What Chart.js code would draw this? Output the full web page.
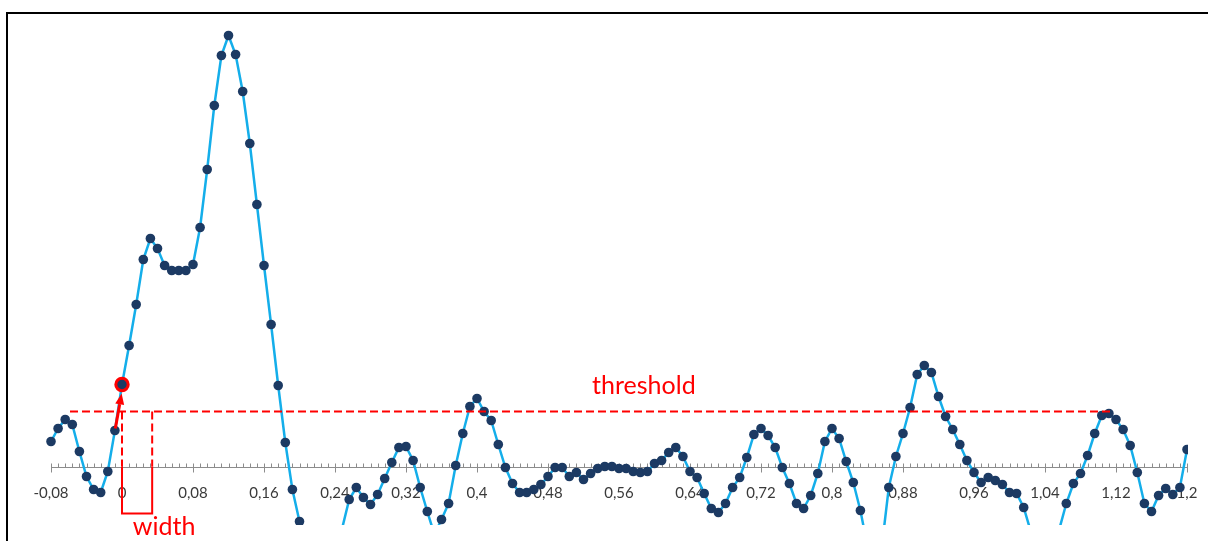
<!DOCTYPE html>
<html>
<head>
<meta charset="utf-8">
<script src="https://cdn.jsdelivr.net/npm/chart.js@4.4.1/dist/chart.umd.min.js"></script>
<style>
   html, body { margin: 0; padding: 0; background: #fff; overflow: hidden; }
   #marco { position: absolute; left: 6px; top: 12px; width: 1400px; height: 800px;
            border-left: 2px solid #000; border-top: 2px solid #000; }
   #contenedor { position: absolute; left: 0; top: 0; width: 1208px; height: 541px; }
</style>
</head>
<body>
<div id="marco"></div>
<div id="contenedor"><canvas id="myChart"></canvas></div>
<script>
// muestras cada 0,008 empezando en -0,08
const xStart = -0.08;
const xStep = 0.008;

const signal = [
   25, 38, 47, 42, 15, -10, -23, -26, -5, 36,
   82, 121, 162, 207, 228, 218, 201, 196, 196, 196,
   202, 239, 297, 361, 411, 431, 412, 375, 323, 262,
   201, 142, 81, 24, -23, -55, -85, -100, -102, -90,
   -75, -62, -33, -21, -31, -38, -28, -12, 4, 19,
   20, 6, -21, -45, -68, -53, -37, 1, 33, 60,
   68, 55, 46, 22, -1, -17, -26, -26, -23, -18,
   -10, -1, -1, -10, -6, -13, -7, -2, 0, 0,
   -2, -2, -5, -6, -5, 3, 6, 14, 19, 10,
   -5, -11, -27, -42, -46, -37, -21, -11, 9, 32,
   38, 31, 19, -1, -17, -37, -42, -29, -7, 25,
   38, 28, 5, -16, -44, -80, -100, -81, -21, 10,
   33, 59, 92, 101, 94, 70, 50, 37, 22, 6,
   -6, -16, -11, -14, -18, -26, -27, -41, -65, -85,
   -95, -85, -63, -37, -17, -7, 11, 33, 51, 53,
   47, 37, 21, -6, -37, -45, -29, -22, -28, -21,
   17, 55
];

const tickValues = [-0.08, 0, 0.08, 0.16, 0.24, 0.32, 0.4, 0.48, 0.56, 0.64, 0.72, 0.8, 0.88, 0.96, 1.04, 1.12, 1.2];
const tickLabels = ['-0,08', '0', '0,08', '0,16', '0,24', '0,32', '0,4', '0,48', '0,56', '0,64', '0,72', '0,8', '0,88', '0,96', '1,04', '1,12', '1,2'];

// anotaciones
const markedIndex = 10;
const thresholdValue = 55;
const thresholdFrom = -0.0586;
const thresholdTo = 1.1135;
const widthFrom = 0;
const widthTo = 0.034;
const widthBottom = -47;
const arrowFrom = { x: -0.0075, y: 38 };
const arrowTo = { x: -0.0004, y: 73 };
const thresholdText = { x: 0.588, y: 80.5, text: 'threshold' };
const widthText = { x: 0.0474, y: -60.5, text: 'width' };

const rojo = '#ff0000';

const ejeX = {
   id: 'ejeX',
   beforeDatasetsDraw(chart) {
      const { ctx, scales: { x, y } } = chart;
      const y0 = Math.round(y.getPixelForValue(0)) + 0.5;
      ctx.save();
      ctx.strokeStyle = '#8c8c8c';
      ctx.lineWidth = 1;
      ctx.beginPath();
      ctx.moveTo(x.getPixelForValue(-0.08), y0);
      ctx.lineTo(x.getPixelForValue(1.2), y0);
      for (let i = 0; i <= 160; i++) {
         const px = Math.round(x.getPixelForValue(xStart + i * xStep)) + 0.5;
         if (i % 10 === 0) {
            ctx.moveTo(px, y0 - 4);
            ctx.lineTo(px, y0 + 5);
         } else {
            ctx.moveTo(px, y0 - 4);
            ctx.lineTo(px, y0);
         }
      }
      ctx.stroke();
      ctx.fillStyle = '#3a3a3a';
      ctx.font = '15px Lato';
      ctx.textAlign = 'center';
      ctx.textBaseline = 'middle';
      tickValues.forEach((v, i) => {
         ctx.fillText(tickLabels[i], x.getPixelForValue(v), y0 + 26);
      });
      ctx.restore();
   }
};

const anotaciones = {
   id: 'anotaciones',
   afterDraw(chart) {
      const { ctx, scales: { x, y } } = chart;
      const yt = y.getPixelForValue(thresholdValue);
      const y0 = y.getPixelForValue(0);
      const yb = y.getPixelForValue(widthBottom);
      ctx.save();
      ctx.strokeStyle = rojo;
      ctx.fillStyle = rojo;
      ctx.lineWidth = 2;

      // threshold
      ctx.setLineDash([8, 4]);
      ctx.beginPath();
      ctx.moveTo(x.getPixelForValue(thresholdFrom), yt);
      ctx.lineTo(x.getPixelForValue(thresholdTo), yt);
      [widthFrom, widthTo].forEach(v => {
         const px = x.getPixelForValue(v);
         ctx.moveTo(px, yt);
         ctx.lineTo(px, y0);
      });
      ctx.stroke();

      // corchete width
      ctx.setLineDash([]);
      ctx.beginPath();
      ctx.moveTo(x.getPixelForValue(widthFrom), y0);
      ctx.lineTo(x.getPixelForValue(widthFrom), yb);
      ctx.lineTo(x.getPixelForValue(widthTo), yb);
      ctx.lineTo(x.getPixelForValue(widthTo), y0);
      ctx.stroke();

      // flecha
      const ax = x.getPixelForValue(arrowFrom.x), ay = y.getPixelForValue(arrowFrom.y);
      const bx = x.getPixelForValue(arrowTo.x), by = y.getPixelForValue(arrowTo.y);
      const ang = Math.atan2(by - ay, bx - ax);
      const len = 11, half = 4.5;
      const cx = bx - len * Math.cos(ang), cy = by - len * Math.sin(ang);
      ctx.lineWidth = 3;
      ctx.beginPath();
      ctx.moveTo(ax, ay);
      ctx.lineTo(cx, cy);
      ctx.stroke();
      ctx.beginPath();
      ctx.moveTo(bx, by);
      ctx.lineTo(cx + half * Math.sin(ang), cy - half * Math.cos(ang));
      ctx.lineTo(cx - half * Math.sin(ang), cy + half * Math.cos(ang));
      ctx.closePath();
      ctx.fill();

      // textos
      ctx.font = '25px Lato';
      ctx.textAlign = 'center';
      ctx.textBaseline = 'middle';
      [thresholdText, widthText].forEach(t => {
         ctx.fillText(t.text, x.getPixelForValue(t.x), y.getPixelForValue(t.y));
      });
      ctx.restore();
   }
};

let ctx = document.getElementById('myChart');
let myChart = new Chart(ctx, {
   type: 'line',
   data: {
      datasets: [{
         data: signal.map((v, i) => ({ x: xStart + i * xStep, y: v })),
         borderColor: '#14aeea',
         borderWidth: 2.5,
         tension: 0,
         pointRadius: c => c.dataIndex === markedIndex ? 6.2 : 4.8,
         pointBackgroundColor: '#1c3a63',
         pointBorderColor: c => c.dataIndex === markedIndex ? rojo : '#1c3a63',
         pointBorderWidth: c => c.dataIndex === markedIndex ? 3 : 0,
         clip: { left: 8, top: 8, right: 1, bottom: 2 }
      }]
   },
   options: {
      responsive: true,
      maintainAspectRatio: false,
      animation: false,
      layout: { padding: { left: 51, right: 21, top: 16, bottom: 18 } },
      scales: {
         x: { type: 'linear', min: -0.08, max: 1.2, display: false },
         y: { min: -56.5, max: 450.5, display: false }
      },
      plugins: {
         legend: { display: false },
         tooltip: { enabled: false }
      }
   },
   plugins: [ejeX, anotaciones]
});
</script>
</body>
</html>
